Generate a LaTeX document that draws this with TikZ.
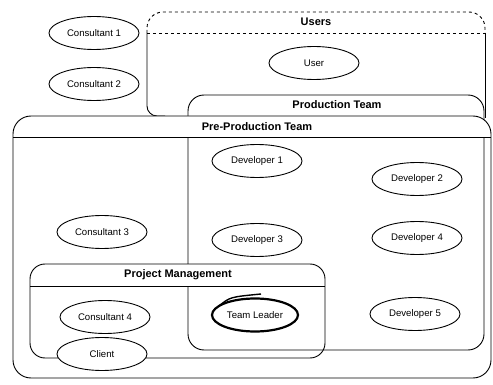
\documentclass[tikz,border=0pt]{standalone}
\usepackage{fontspec}
\setmainfont{Liberation Sans}
\usetikzlibrary{shapes.geometric}
\begin{document}
\begin{tikzpicture}[x=1pt,y=-1pt,line width=0.9pt,
  ell/.style={ellipse,draw,fill=white,minimum width=90pt,minimum height=33pt,inner sep=0pt,font=\fontsize{9.6}{11}\selectfont},
  ttl/.style={font=\bfseries\fontsize{11}{13}\selectfont,inner sep=0pt},
  box/.style={draw,rounded corners=16pt}]
\useasboundingbox[fill=white] (0,0) rectangle (493,385);
% Users
\draw[dashed,rounded corners=16pt] (147,33) -- (147,12) -- (485,12) -- (485,33);
\draw[dashed] (147,33) -- (485,33);
\draw[rounded corners=10pt] (147,33) -- (147,116) -- (165,116);
\draw (485,33) -- (485,118);
\node[ttl] (usersT) at (316,22) {Users};
% Production Team
\draw[box] (188,95) rectangle (484,350);
\node[ttl] (prodT) at (337,105) {Production Team};
% Pre-Production Team
\begin{scope}
\clip (0,0) rectangle (493,137);
\fill[white,rounded corners=18pt] (13,116) rectangle (491,378);
\end{scope}
\draw[rounded corners=18pt] (13,116) rectangle (491,378);
\draw (13,137) -- (491,137);
\node[ttl] (preT) at (257,127) {Pre-Production Team};
% Project Management
\begin{scope}
\clip (0,0) rectangle (493,286);
\fill[white,rounded corners=15pt] (30,264) rectangle (325,358);
\end{scope}
\draw[rounded corners=15pt] (30,264) rectangle (325,358);
\draw (30,286) -- (325,286);
\node[ttl] (pmT) at (178,275) {Project Management};
% Ellipses
\node[ell] (c1) at (94,33) {Consultant 1};
\node[ell] (c2) at (94,84) {Consultant 2};
\node[ell] (user) at (314,63) {User};
\node[ell] (d1) at (257,161) {Developer 1};
\node[ell] (d2) at (417,179) {Developer 2};
\node[ell] (c3) at (102,232) {Consultant 3};
\node[ell] (d3) at (257,240) {Developer 3};
\node[ell] (d4) at (417,238) {Developer 4};
\node[ell] (d5) at (415,314) {Developer 5};
\node[ell] (c4) at (105,317) {Consultant 4};
\node[ell] (client) at (102,354) {Client};
\node[ell,line width=2.2pt,minimum width=86pt,minimum height=33pt] (tl) at (255,315) {Team Leader};
\draw[line width=1.4pt] (219,306) .. controls (230,297) .. (261,294);
\end{tikzpicture}
\end{document}
